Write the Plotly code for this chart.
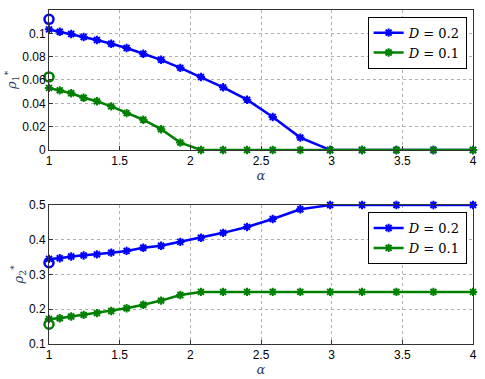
import plotly.graph_objects as go
from plotly.subplots import make_subplots

# alpha samples
alpha = [1.0, 1.076, 1.157, 1.245, 1.339, 1.44, 1.549, 1.667, 1.793, 1.929,
         2.075, 2.232, 2.401, 2.583, 2.778, 2.989, 3.215, 3.458, 3.72, 4.0]

rho1_d02 = [0.1034, 0.1014, 0.0994, 0.0968, 0.0943, 0.0911, 0.0874, 0.0825, 0.0773, 0.0704,
            0.0626, 0.0537, 0.0431, 0.0282, 0.0106, 0.0, 0.0, 0.0, 0.0, 0.0]
rho1_d01 = [0.0532, 0.0511, 0.0486, 0.0448, 0.0417, 0.0374, 0.0316, 0.0259, 0.0178, 0.0063,
            0.0, 0.0, 0.0, 0.0, 0.0, 0.0, 0.0, 0.0, 0.0, 0.0]

rho2_d02 = [0.345, 0.347, 0.352, 0.355, 0.358, 0.363, 0.368, 0.377, 0.383, 0.394,
            0.406, 0.420, 0.437, 0.460, 0.488, 0.5, 0.5, 0.5, 0.5, 0.5]
rho2_d01 = [0.172, 0.174, 0.179, 0.184, 0.189, 0.195, 0.203, 0.213, 0.225, 0.241,
            0.25, 0.25, 0.25, 0.25, 0.25, 0.25, 0.25, 0.25, 0.25, 0.25]

# single circled points at alpha = 1
circ_x = [1.0]
rho1_circ_d02 = [0.112]
rho1_circ_d01 = [0.0626]
rho2_circ_d02 = [0.334]
rho2_circ_d01 = [0.157]

labels = ["<i>D</i> = 0.2", "<i>D</i> = 0.1"]
colors = ["#0000ff", "#008000"]

fig = make_subplots(rows=2, cols=1, vertical_spacing=0.165)

panels = [
    (1, [rho1_d02, rho1_d01], [rho1_circ_d02, rho1_circ_d01], "legend"),
    (2, [rho2_d02, rho2_d01], [rho2_circ_d02, rho2_circ_d01], "legend2"),
]

for row, series, circles, leg in panels:
    for ys, yc, name, col in zip(series, circles, labels, colors):
        fig.add_trace(go.Scatter(
            x=alpha, y=ys, name=name, mode="lines+markers",
            line=dict(color=col, width=2.5),
            marker=dict(symbol="asterisk-open", size=7, color=col,
                        line=dict(color=col, width=2)),
            legend=leg, cliponaxis=False,
        ), row=row, col=1)
        fig.add_trace(go.Scatter(
            x=circ_x, y=yc, mode="markers", showlegend=False,
            marker=dict(symbol="circle-open", size=9, color=col,
                        line=dict(color=col, width=2.5)),
            cliponaxis=False,
        ), row=row, col=1)

axis_style = dict(
    showline=True, mirror=True, linecolor="#333", linewidth=1,
    ticks="inside", ticklen=4, tickcolor="#333", automargin=False,
    showgrid=True, gridcolor="#b0b0b0", griddash="dot", gridwidth=1,
    zeroline=False, tickfont=dict(family="Liberation Sans, Arial", size=12, color="#000"),
)

fig.update_xaxes(range=[1, 4], tickvals=[1, 1.5, 2, 2.5, 3, 3.5, 4],
                 ticktext=["1", "1.5", "2", "2.5", "3", "3.5", "4"],
                 title=dict(text="<i>α</i>", standoff=0,
                            font=dict(family="DejaVu Serif", size=13)),
                 **axis_style)
fig.update_yaxes(**axis_style)
fig.update_yaxes(range=[0, 0.12], tickvals=[0, 0.02, 0.04, 0.06, 0.08, 0.1],
                 ticktext=["0", "0.02", "0.04", "0.06", "0.08", "0.1"],
                 title=dict(text="<i>ρ</i><sub>1</sub><sup>*</sup>", standoff=2,
                            font=dict(family="DejaVu Serif", size=13)),
                 row=1, col=1)
fig.update_yaxes(range=[0.1, 0.5], tickvals=[0.1, 0.2, 0.3, 0.4, 0.5],
                 ticktext=["0.1", "0.2", "0.3", "0.4", "0.5"],
                 title=dict(text="<i>ρ</i><sub>2</sub><sup>*</sup>", standoff=2,
                            font=dict(family="DejaVu Serif", size=13)),
                 row=2, col=1)

fig.update_layout(xaxis_domain=[0, 1], yaxis_domain=[0.581, 1.0],
                  xaxis2_domain=[0, 1], yaxis2_domain=[0.0, 0.416])

legend_style = dict(
    bgcolor="white", bordercolor="#000", borderwidth=1,
    font=dict(family="DejaVu Serif", size=13, color="#000"),
    xanchor="right", yanchor="top", x=0.985, tracegroupgap=0,
    itemwidth=30,
)

fig.update_layout(
    width=485, height=379,
    margin=dict(l=49, r=12, t=10, b=35),
    paper_bgcolor="white", plot_bgcolor="white",
    legend=dict(y=0.98, **legend_style),
    legend2=dict(y=0.395, **legend_style),
)

# drop the page's default body margin so the figure sits at the window corner
fig.write_html("out.html", config={"displayModeBar": False},
               post_script="document.body.style.margin = '0px';")
